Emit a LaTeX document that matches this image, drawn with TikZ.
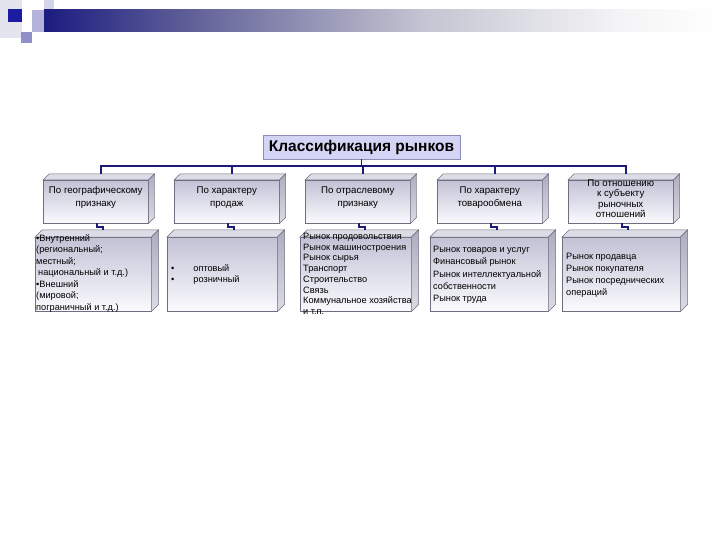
\documentclass[tikz,border=0pt]{standalone}
\usepackage{fontspec}
\setmainfont{Liberation Sans}
\usetikzlibrary{calc}
\definecolor{navy}{HTML}{1A1A78}
\definecolor{boxline}{HTML}{6E6E80}
\definecolor{fronttop}{HTML}{C2C2D6}
\definecolor{frontbot}{HTML}{FAFAFE}
\definecolor{topc}{HTML}{DCDCE6}
\definecolor{sidec}{HTML}{ACACBE}
\definecolor{titlefill}{HTML}{D4D4F4}
\definecolor{titleline}{HTML}{8C8CB4}
\definecolor{hb0}{HTML}{1C1C80}
\definecolor{hb1}{HTML}{64649A}
\definecolor{hb2}{HTML}{C4C4D2}
\definecolor{hb3}{HTML}{F4F4F6}
\definecolor{hdrA}{HTML}{E4E4EE}
\definecolor{hdrDark}{HTML}{1C1CA0}
\definecolor{hdrB}{HTML}{B4B4DA}
\definecolor{hdrC}{HTML}{D4D4EA}
\definecolor{hdrD}{HTML}{9090C8}
\pgfdeclarehorizontalshading{hdrbar}{100bp}{color(0bp)=(hb0); color(25bp)=(hb0); color(36.5bp)=(hb1); color(53bp)=(hb2); color(67.5bp)=(hb3); color(75bp)=(white); color(100bp)=(white)}
\tikzset{
  conn/.style={draw=navy, line width=1.8pt},
  front/.style={draw=boxline, line width=0.5pt, top color=fronttop, bottom color=frontbot, inner sep=0pt, anchor=north west},
  topface/.style={draw=boxline, line width=0.5pt, fill=topc},
  sideface/.style={draw=boxline, line width=0.5pt, top color=sidec, bottom color=topc},
  title/.style={draw=titleline, line width=0.8pt, fill=titlefill, minimum width=197pt, minimum height=24pt, inner sep=0pt, font=\bfseries\fontsize{15.5}{17}\selectfont},
  l1/.style={align=center, inner sep=0pt, font=\fontsize{9.7}{13}\selectfont},
  l1b/.style={align=center, inner sep=0pt, font=\fontsize{9.7}{10.5}\selectfont},
  l2/.style={align=left, anchor=north west, inner sep=0pt, font=\fontsize{9.2}{11.5}\selectfont}
}
\newcommand\cubebox[6]{%
  \node[front, minimum width=#4pt, minimum height=#5pt] (#1) at (#2,#3) {};
  \draw[topface] (#1.north west) -- ++(#6,-#6) -- ($(#1.north east)+(#6,-#6)$) -- (#1.north east) -- cycle;
  \draw[sideface] (#1.north east) -- ++(#6,-#6) -- ($(#1.south east)+(#6,-#6)$) -- (#1.south east) -- cycle;
}
\begin{document}
\begin{tikzpicture}[x=1pt,y=-1pt]
\useasboundingbox (0,0) rectangle (720,540);
% header decoration
\fill[hdrA] (0,0) rectangle (22,38);
\fill[hdrC] (44,0) rectangle (54,12);
\shade[shading=hdrbar] (44,10) rectangle (720,32);
\fill[hdrB] (32,10) rectangle (44,32);
\fill[hdrDark] (8,9) rectangle (22,22);
\fill[hdrD] (21,32) rectangle (32,43);
% title
\node[title] (t) at (361.5,147) {Классификация рынков};
% cubes
\cubebox{p1}{43}{180}{105}{43}{6}
\cubebox{p2}{174}{180}{105}{43}{6}
\cubebox{p3}{305}{180}{105}{43}{6}
\cubebox{p4}{437}{180}{105}{43}{6}
\cubebox{p5}{568}{180}{105}{43}{6}
\cubebox{q1}{35}{237}{116}{74}{7}
\cubebox{q2}{167}{237}{110}{74}{7}
\cubebox{q3}{300}{237}{111}{74}{7}
\cubebox{q4}{430}{237}{118}{74}{7}
\cubebox{q5}{562}{237}{118}{74}{7}
% connectors
\coordinate (bus) at (361.5,166);
\foreach \i in {1,...,5} {\coordinate (pt\i) at ($(p\i.north)+(5.5,-6)$);}
\draw[conn] (t.south) -- (bus);
\draw[conn] (pt1) -- (pt1 |- bus) -- (pt5 |- bus) -- (pt5);
\foreach \i in {2,3,4} {\draw[conn] (pt\i) -- (pt\i |- bus);}
\foreach \i in {1,...,5} {\draw[conn] ($(p\i.south)+(1.5,0)$) -- ++(0,3.5) -- ++(5.5,0) -- ++(0,3.5);}
% level 1 labels
\node[l1] (lp1) at ($(p1.center)+(0,-4)$) {По географическому\\признаку};
\node[l1] (lp2) at ($(p2.center)+(0,-4)$) {По характеру\\продаж};
\node[l1] (lp3) at ($(p3.center)+(0,-4)$) {По отраслевому\\признаку};
\node[l1] (lp4) at ($(p4.center)+(0,-4)$) {По характеру\\товарообмена};
\node[l1b] (lp5) at ($(p5.center)+(0,-3)$) {По отношению\\к субъекту\\рыночных\\отношений};
% level 2 texts
\node[l2] (lq1) at (36,234) {•Внутренний\\(региональный;\\местный;\\\hspace*{2pt}национальный и т.д.)\\•Внешний\\(мировой;\\пограничный и т.д.)};
\node[l2] (lq2) at (171,264) {•\hspace{19pt}оптовый\\•\hspace{19pt}розничный};
\node[l2, font=\fontsize{9.2}{10.7}\selectfont] (lq3) at (303,233) {Рынок продовольствия\\Рынок машиностроения\\Рынок сырья\\Транспорт\\Строительство\\Связь\\Коммунальное хозяйства\\и т.п.};
\node[l2, font=\fontsize{9.2}{12.3}\selectfont] (lq4) at (433,246) {Рынок товаров и услуг\\Финансовый рынок\\Рынок интеллектуальной\\собственности\\Рынок труда};
\node[l2, font=\fontsize{9.2}{12}\selectfont] (lq5) at (566,253) {Рынок продавца\\Рынок покупателя\\Рынок посреднических\\операций};
\end{tikzpicture}
\end{document}
